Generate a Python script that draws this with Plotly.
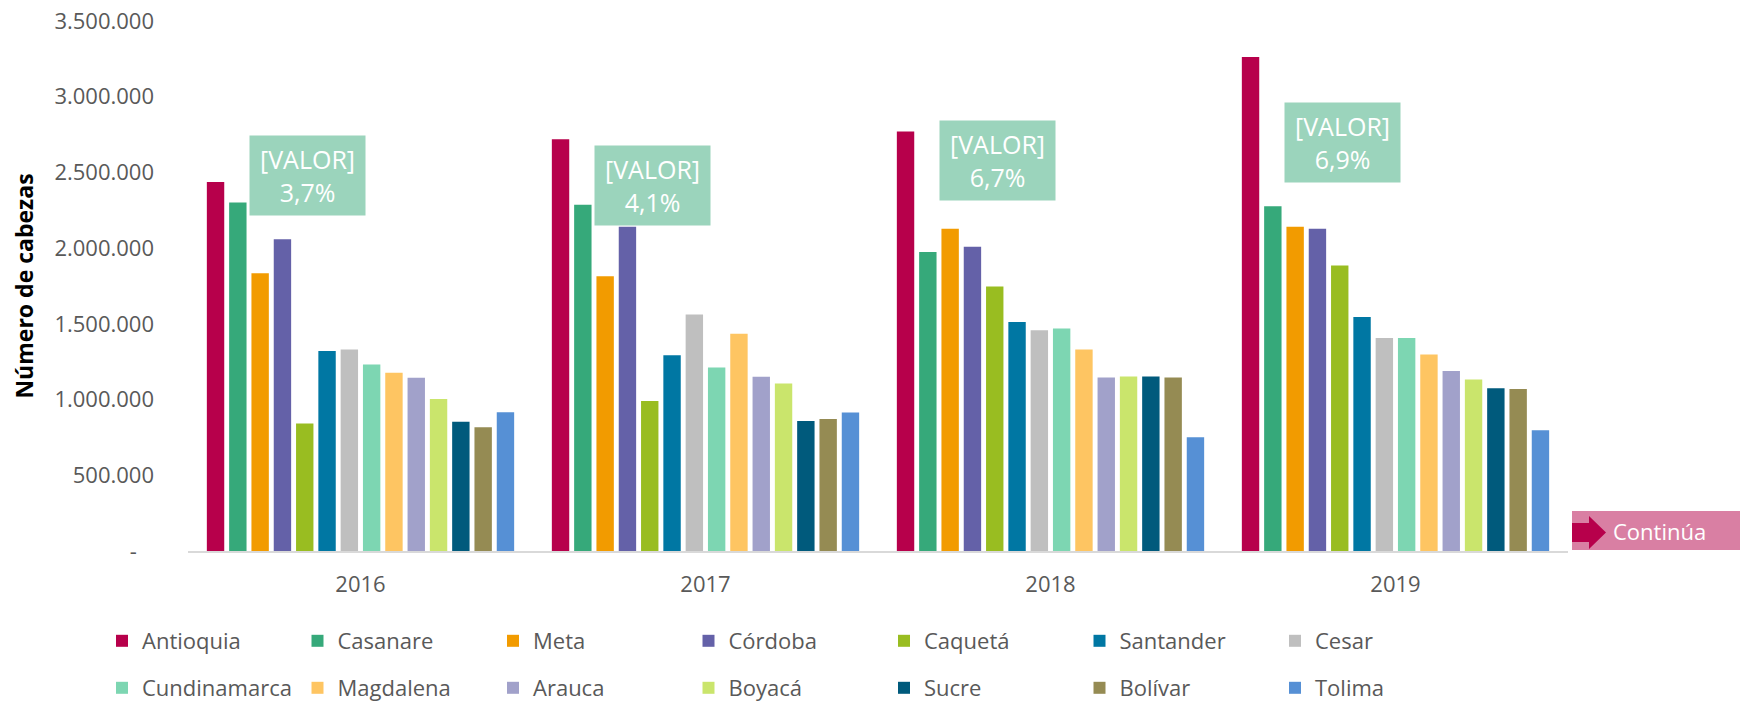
import plotly.graph_objects as go

# Datos: número de cabezas por departamento (2016-2019)
years = ["2016", "2017", "2018", "2019"]
departments = ["Antioquia", "Casanare", "Meta", "Córdoba", "Caquetá", "Santander", "Cesar",
               "Cundinamarca", "Magdalena", "Arauca", "Boyacá", "Sucre", "Bolívar", "Tolima"]
antioquia = [2436000, 2719000, 2770000, 3262000]
casanare = [2302000, 2287000, 1974000, 2276000]
meta = [1834000, 1815000, 2128000, 2142000]
cordoba = [2058000, 2142000, 2009000, 2128000]
caqueta = [842000, 991000, 1747000, 1886000]
santander = [1321000, 1293000, 1513000, 1546000]
cesar = [1331000, 1562000, 1458000, 1407000]
cundinamarca = [1231000, 1211000, 1469000, 1407000]
magdalena = [1177000, 1434000, 1331000, 1297000]
arauca = [1144000, 1150000, 1145000, 1189000]
boyaca = [1003000, 1106000, 1152000, 1132000]
sucre = [854000, 859000, 1152000, 1075000]
bolivar = [818000, 872000, 1145000, 1070000]
tolima = [917000, 914000, 751000, 797000]
share_labels = ["3,7%", "4,1%", "6,7%", "6,9%"]
y_ticks = [0, 500000, 1000000, 1500000, 2000000, 2500000, 3000000, 3500000]
y_ticktext = ["-\u00a0\u00a0\u00a0", "500.000", "1.000.000", "1.500.000", "2.000.000",
              "2.500.000", "3.000.000", "3.500.000"]

series = [antioquia, casanare, meta, cordoba, caqueta, santander, cesar,
          cundinamarca, magdalena, arauca, boyaca, sucre, bolivar, tolima]
colors = ["#B7004B", "#36A97A", "#F29B00", "#6461A8", "#99BD21", "#0077A3", "#BFBFBF",
          "#7DD6B2", "#FEC562", "#A1A1CA", "#CAE56C", "#005A7C", "#958B53", "#5690D5"]

FONT = "Open Sans"
GREY = "#595959"

# plot area in pixels
W, H = 1740, 702
L, R, T, B = 188, 172, 21, 151
PW, PH = W - L - R, H - T - B


def px(x):
    return (x - L) / PW


def py(y):
    return (H - B - y) / PH


fig = go.Figure()
for i, (name, vals) in enumerate(zip(departments, series)):
    fig.add_trace(go.Bar(
        x=years, y=vals, name=name,
        marker=dict(color=colors[i], line=dict(width=0)),
        legend="legend" if i < 7 else "legend2",
    ))

# recuadros verdes con el porcentaje
box_y = [2477000, 2414000, 2579000, 2698000]
annotations = []
for i, lab in enumerate(share_labels):
    annotations.append(dict(
        x=i - 0.155, y=box_y[i], xref="x", yref="y",
        text="[VALOR]<br>" + lab, showarrow=False,
        font=dict(family=FONT, size=25, color="white"),
        bgcolor="#9BD4BC", width=115, height=79, borderpad=0,
    ))

# botón "Continúa"
annotations.append(dict(
    x=px(1611), y=py(531), xref="paper", yref="paper", xanchor="left", yanchor="middle",
    text="Continúa", showarrow=False, font=dict(family=FONT, size=22, color="white"),
))
shapes = [
    dict(type="rect", xref="paper", yref="paper", x0=px(1572), x1=px(1740), y0=py(550), y1=py(511),
         fillcolor="#D97FA3", line=dict(width=0), layer="above"),
    dict(type="path", xref="paper", yref="paper",
         path="M {},{} L {},{} L {},{} L {},{} L {},{} L {},{} L {},{} Z".format(
             px(1572), py(523), px(1589), py(523), px(1589), py(516), px(1606), py(532.5),
             px(1589), py(549), px(1589), py(542), px(1572), py(542)),
         fillcolor="#B7004B", line=dict(width=0), layer="above"),
]

legend_style = dict(orientation="h", xanchor="left", yanchor="middle",
                    entrywidth=150.5, entrywidthmode="pixels", font=dict(size=22, color=GREY),
                    bgcolor="rgba(0,0,0,0)", traceorder="normal")

fig.update_layout(
    width=W, height=H,
    margin=dict(l=L, r=R, t=T, b=B, autoexpand=False),
    paper_bgcolor="white", plot_bgcolor="white",
    font=dict(family=FONT, size=22, color=GREY),
    barmode="group", bargap=0.095, bargroupgap=0.22,
    showlegend=True,
    legend=dict(legend_style, x=px(102), y=py(641)),
    legend2=dict(legend_style, x=px(102), y=py(688)),
    annotations=annotations,
    shapes=shapes,
    xaxis=dict(showline=True, linecolor="#D9D9D9", linewidth=2, showgrid=False, ticks="",
               tickfont=dict(size=22, color=GREY), ticklabelstandoff=13),
    yaxis=dict(range=[0, 3500000], tickvals=y_ticks, ticktext=y_ticktext, showgrid=False,
               zeroline=False, showline=False, ticks="", tickfont=dict(size=22, color=GREY),
               ticklabelstandoff=33,
               title=dict(text="<b>Número de cabezas</b>", standoff=14,
                          font=dict(size=23, color="black"))),
)

# sin margen del <body> para que la figura ocupe la ventana exacta
fig.write_html("out.html", config={"displayModeBar": False},
               post_script="document.body.style.margin='0';")
